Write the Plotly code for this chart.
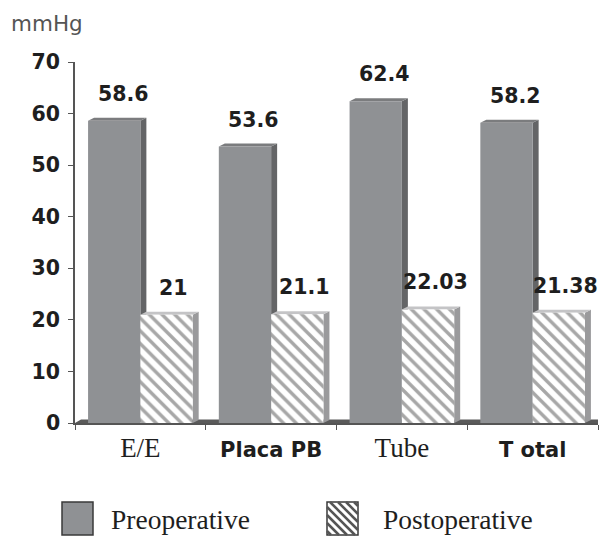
import plotly.graph_objects as go

categories = ["E/E", "Placa PB", "Tube", "Total"]
tick_labels = [
    "E/E",
    "<span style=\"font-family:'DejaVu Sans';font-size:21px;font-weight:bold\">Placa PB</span>",
    "Tube",
    "<span style=\"font-family:'DejaVu Sans';font-size:21px;font-weight:bold\">T otal</span>",
]
preoperative = [58.6, 53.6, 62.4, 58.2]
postoperative = [21.0, 21.1, 22.03, 21.38]
pre_text = ["58.6", "53.6", "62.4", "58.2"]
post_text = ["21", "21.1", "22.03", "21.38"]
y_ticks = [0, 10, 20, 30, 40, 50, 60, 70]

# page body has an 8px margin: compensate so the plot lands at the right screen spot
OFF = 8
W, H = 611, 539
PLOT_L, PLOT_R, PLOT_T, PLOT_B = 75, 598, 62, 423   # screen pixels
ML = PLOT_L - OFF
MT = PLOT_T - OFF
PW = PLOT_R - PLOT_L
PH = PLOT_B - PLOT_T
MR = W - ML - PW
MB = H - MT - PH
YMAX = 70
BARGAP = 0.2
HALF = (1 - BARGAP) / 2

# 3D depth in data units (derived from pixel scale)
DX = 6 / (PW / 4)
DY = 3 / (PH / YMAX)

PRE_FRONT = "#8f9194"
PRE_SIDE = "#646567"
PRE_TOP = "#7b7c7e"
POST_SIDE = "#9a9a9c"
POST_TOP = "#c4c4c6"

fig = go.Figure()
fig.add_trace(go.Bar(
    x=categories, y=preoperative, name="Preoperative",
    marker=dict(color=PRE_FRONT, line=dict(width=0)),
))
fig.add_trace(go.Bar(
    x=categories, y=postoperative, name="Postoperative",
    marker=dict(color="white", line=dict(width=0),
                pattern=dict(shape="\\", fgcolor="#505050", bgcolor="white",
                             size=9, solidity=0.38)),
))

shapes = []

def box3d(x0, x1, v, side, top):
    side_path = (f"M {x1},0 L {x1+DX},{DY} L {x1+DX},{v+DY} L {x1},{v} Z")
    top_path = (f"M {x0},{v} L {x0+DX},{v+DY} L {x1+DX},{v+DY} L {x1},{v} Z")
    return [
        dict(type="path", path=side_path, xref="x", yref="y", layer="below",
             fillcolor=side, line=dict(width=0)),
        dict(type="path", path=top_path, xref="x", yref="y", layer="below",
             fillcolor=top, line=dict(width=0)),
    ]

# floor
shapes.append(dict(type="path", xref="x", yref="y", layer="below",
                   path=f"M -0.5,0 L {-0.5+DX},{DY*1.2} L {3.5+DX},{DY*1.2} L 3.5,0 Z",
                   fillcolor="#5a5a5a", line=dict(width=0)))
for i, (a, b) in enumerate(zip(preoperative, postoperative)):
    shapes += box3d(i - HALF, i, a, PRE_SIDE, PRE_TOP)
    shapes += box3d(i, i + HALF, b, POST_SIDE, POST_TOP)

annotations = []
for i, (a, b) in enumerate(zip(preoperative, postoperative)):
    annotations.append(dict(x=i - HALF / 2, y=a, xref="x", yref="y", text=pre_text[i],
                            showarrow=False, yanchor="bottom", yshift=13, xshift=9,
                            font=dict(family="DejaVu Sans", size=20.5, color="#1e1e1e", weight="bold")))
    annotations.append(dict(x=i + HALF / 2, y=b, xref="x", yref="y", text=post_text[i],
                            showarrow=False, yanchor="bottom", yshift=13, xshift=7,
                            font=dict(family="DejaVu Sans", size=20.5, color="#1e1e1e", weight="bold")))

def px(xs):
    return (xs - PLOT_L) / PW

def py(ys):
    return (PLOT_B - ys) / PH

annotations.append(dict(x=px(9), y=py(24), xref="paper", yref="paper", text="mmHg",
                        showarrow=False, xanchor="left", yanchor="middle",
                        font=dict(family="DejaVu Sans", size=21.5, color="#555555")))

# legend (drawn manually, large swatches)
sw1 = (62, 502, 93, 535)
sw2 = (327, 502, 358, 535)
shapes.append(dict(type="rect", xref="paper", yref="paper",
                   x0=px(sw1[0]), x1=px(sw1[2]), y0=py(sw1[3]), y1=py(sw1[1]),
                   fillcolor=PRE_FRONT, line=dict(color="#3a3a3a", width=1.5)))
shapes.append(dict(type="rect", xref="paper", yref="paper",
                   x0=px(sw2[0]), x1=px(sw2[2]), y0=py(sw2[3]), y1=py(sw2[1]),
                   fillcolor="white", line=dict(color="#3a3a3a", width=1.5)))
s = sw2[2] - sw2[0]
hs = sw2[3] - sw2[1]
step = 8
c = -hs + 4
while c < s:
    u0, v0 = (c, 0) if c >= 0 else (0, -c)
    u1 = min(s, hs + c)
    v1 = u1 - c
    shapes.append(dict(type="line", xref="paper", yref="paper",
                       x0=px(sw2[0] + u0), y0=py(sw2[1] + v0),
                       x1=px(sw2[0] + u1), y1=py(sw2[1] + v1),
                       line=dict(color="#555555", width=2.5)))
    c += step

annotations.append(dict(x=px(109), y=py(520), xref="paper", yref="paper", text="Preoperative",
                        showarrow=False, xanchor="left", yanchor="middle",
                        font=dict(family="Liberation Serif", size=27.5, color="#1e1e1e")))
annotations.append(dict(x=px(381), y=py(520), xref="paper", yref="paper", text="Postoperative",
                        showarrow=False, xanchor="left", yanchor="middle",
                        font=dict(family="Liberation Serif", size=27.5, color="#1e1e1e")))

fig.update_layout(
    width=W, height=H,
    margin=dict(l=ML, r=MR, t=MT, b=MB, autoexpand=False),
    paper_bgcolor="white", plot_bgcolor="white",
    barmode="group", bargap=BARGAP, bargroupgap=0,
    showlegend=False,
    shapes=shapes, annotations=annotations,
    xaxis=dict(
        type="category", range=[-0.5, 3.5],
        tickmode="array", tickvals=categories, ticktext=tick_labels,
        tickson="boundaries", ticks="outside", ticklen=5, tickcolor="#555555",
        showline=True, linecolor="#555555", linewidth=1.5,
        showgrid=False, zeroline=False,
        tickfont=dict(family="Liberation Serif", size=27, color="#1e1e1e"),
    ),
    yaxis=dict(
        range=[0, YMAX], tickvals=y_ticks,
        ticks="outside", ticklen=5, tickcolor="#555555",
        showline=True, linecolor="#555555", linewidth=1.5,
        showgrid=False, zeroline=False, ticklabelstandoff=4,
        tickfont=dict(family="DejaVu Sans", size=20.5, color="#1e1e1e", weight="bold"),
    ),
)

fig.write_html("out.html")
